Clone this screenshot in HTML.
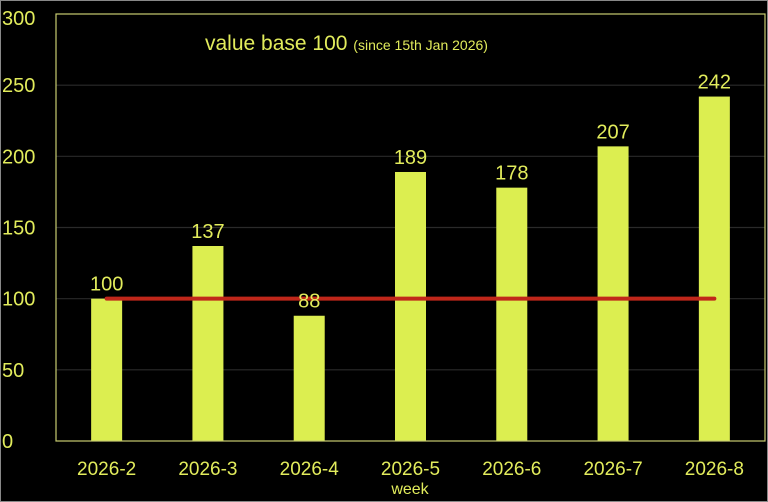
<!DOCTYPE html>
<html><head><meta charset="utf-8"><style>
html,body{margin:0;padding:0;background:#000;}
svg{display:block;font-family:"Liberation Sans",sans-serif;}
</style></head><body>
<svg width="768" height="502" viewBox="0 0 768 502">
<rect x="0.5" y="0.5" width="767" height="501" fill="#000" stroke="#888"/>
<g id="grid"></g>
<g id="bars"></g>
<rect x="56" y="14" width="709" height="427" fill="none" stroke="#c8cc70" stroke-width="1.2"/>
<line id="base" stroke="#c0271a" stroke-width="4" stroke-linecap="round"/>
<g id="labels"></g>
<text x="205" y="50" fill="#e2ec5c" font-size="21">value base 100 <tspan font-size="14">(since 15th Jan 2026)</tspan></text>
<text x="410" y="494" fill="#e2ec5c" font-size="16" text-anchor="middle">week</text>
</svg>
<script>
const categories=["2026-2","2026-3","2026-4","2026-5","2026-6","2026-7","2026-8"];
const values=[100,137,88,189,178,207,242];
const yTicks=[0,50,100,150,200,250,300];
const baseValue=100;
const L=56,R=765,T=14,B=441,yMax=300;
const NS="http://www.w3.org/2000/svg";
const band=(R-L)/categories.length;
const xc=i=>L+band*(i+0.5);
const y=v=>B-v*(B-T)/yMax;
const grid=document.getElementById('grid'),bars=document.getElementById('bars'),labels=document.getElementById('labels');
function mk(tag,attrs,parent){const e=document.createElementNS(NS,tag);for(const k in attrs)e.setAttribute(k,attrs[k]);parent.appendChild(e);return e;}
yTicks.forEach(t=>{
  if(t>0&&t<yMax){const g=mk('line',{x1:L,x2:R,y1:y(t),y2:y(t),stroke:'#2a2a2a','stroke-width':1.2},grid);
  
  }
  const tx=mk('text',{x:2,y:y(t)+(t===yMax?11:7),fill:'#e2ec5c','font-size':20},labels);
  tx.textContent=t;
  
  
});
categories.forEach((c,i)=>{
  const w=31;
  const r=mk('rect',{x:xc(i)-w/2,y:y(values[i]),width:w,height:B-y(values[i]),fill:'#dcee50'},bars);
  
  
  const v=mk('text',{x:xc(i),y:y(values[i])-8,fill:'#e2ec5c','font-size':20,'text-anchor':'middle'},labels);
  v.textContent=values[i];
  
  
  const xl=mk('text',{x:xc(i),y:475,fill:'#e2ec5c','font-size':19,'text-anchor':'middle'},labels);
  xl.textContent=c;
  
  
});
const bl=document.getElementById('base');
bl.setAttribute('x1',xc(0));bl.setAttribute('x2',xc(categories.length-1));
bl.setAttribute('y1',y(baseValue));bl.setAttribute('y2',y(baseValue));
</script>
</body></html>
